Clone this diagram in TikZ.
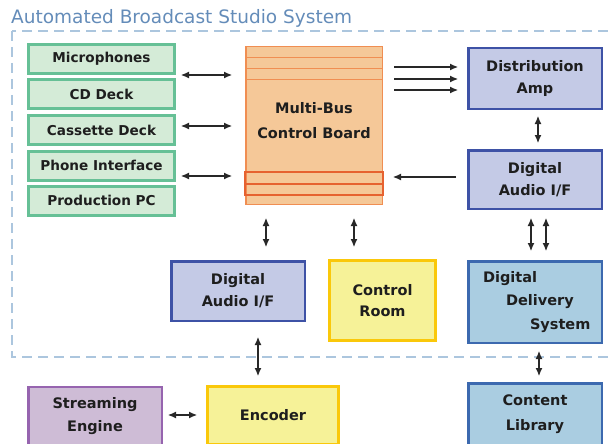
\documentclass[tikz,border=0pt]{standalone}
\usepackage{fontspec}
\setmainfont{DejaVu Sans}
\usetikzlibrary{arrows.meta}

\definecolor{titleblue}{RGB}{100,140,185}
\definecolor{framegray}{RGB}{172,198,222}
\definecolor{labeltext}{RGB}{30,30,30}
\definecolor{arrowgray}{RGB}{40,40,40}
\definecolor{srcfill}{RGB}{212,235,215}
\definecolor{srcline}{RGB}{102,192,150}
\definecolor{boardfill}{RGB}{245,200,152}
\definecolor{boardline}{RGB}{240,142,82}
\definecolor{busred}{RGB}{230,98,48}
\definecolor{iffill}{RGB}{196,202,230}
\definecolor{ifline}{RGB}{62,82,166}
\definecolor{roomfill}{RGB}{246,242,152}
\definecolor{roomline}{RGB}{250,200,10}
\definecolor{delfill}{RGB}{170,205,225}
\definecolor{delline}{RGB}{60,105,175}
\definecolor{streamfill}{RGB}{206,188,214}
\definecolor{streamline}{RGB}{150,100,175}

\tikzset{
  box/.style={draw, rectangle, inner sep=2pt, align=center, text=labeltext,
    font=\bfseries\fontsize{14.5}{22}\selectfont},
  srcbox/.style={box, fill=srcfill, draw=srcline, line width=3pt,
    minimum width=146pt, minimum height=29pt,
    font=\bfseries\fontsize{13.6}{15}\selectfont},
  ifbox/.style={box, fill=iffill, draw=ifline, line width=2.5pt},
  roombox/.style={box, fill=roomfill, draw=roomline, line width=3pt},
  delbox/.style={box, fill=delfill, draw=delline, line width=2.5pt},
  streambox/.style={box, fill=streamfill, draw=streamline, line width=2.5pt},
  link/.style={draw=arrowgray, line width=1.1pt, -{Latex[length=8pt,width=7pt]}},
  dbl/.style={draw=arrowgray, line width=1.1pt,
    {Latex[length=8pt,width=7pt]}-{Latex[length=8pt,width=7pt]}},
  frame/.style={draw=framegray, line width=1.5pt, dash pattern=on 10pt off 6pt}
}

\begin{document}
\begin{tikzpicture}[x=1pt,y=-1pt]
\useasboundingbox (0,0) rectangle (608,444);
\clip (0,0) rectangle (608,444);

% title and studio frame
\node[anchor=base west, inner sep=0pt, text=titleblue,
  font=\fontsize{18.5}{22}\selectfont] (title) at (11,24) {Automated Broadcast Studio System};
\draw[frame] (12,31) rectangle (640,357);

% sources
\node[srcbox] (mic) at (101.5,59) {Microphones};
\node[srcbox] (cd) at (101.5,94) {CD Deck};
\node[srcbox] (cassette) at (101.5,130) {Cassette Deck};
\node[srcbox] (phone) at (101.5,165.5) {Phone Interface};
\node[srcbox] (pc) at (101.5,200.5) {Production PC};

% control board
\node[draw=boardline, fill=boardfill, line width=1.5pt, minimum width=136.5pt,
  minimum height=157.5pt] (board) at (314,125.5) {};
\draw[boardline, line width=1pt] (board.west |- 0,58) -- (board.east |- 0,58);
\draw[boardline, line width=1pt] (board.west |- 0,69) -- (board.east |- 0,69);
\draw[boardline, line width=1pt] (board.west |- 0,80) -- (board.east |- 0,80);
\draw[busred, line width=2pt] (board.west |- 0,172) rectangle (board.east |- 0,195);
\draw[busred, line width=2pt] (board.west |- 0,183.5) -- (board.east |- 0,183.5);
\node[align=center, text=labeltext, font=\bfseries\fontsize{14.5}{25}\selectfont]
  (boardlabel) at (314,120.5) {Multi-Bus\\Control Board};

% right hand side
\node[ifbox, minimum width=133.5pt, minimum height=60.5pt] (dist) at (535,78.5) {Distribution\\Amp};
\node[ifbox, minimum width=133.5pt, minimum height=58.5pt] (daifr) at (535,179.5) {Digital\\Audio I/F};
\node[delbox, minimum width=133.5pt, minimum height=81.5pt, text width=120pt, align=left,
  font=\bfseries\fontsize{14.5}{23.5}\selectfont]
  (delivery) at (535,302) {\hspace*{8pt}Digital\\\hspace*{31pt}Delivery\\\hspace*{55pt}System};
\node[delbox, minimum width=133.5pt, minimum height=61.5pt, font=\bfseries\fontsize{14.5}{25}\selectfont]
  (library) at (535,414) {Content\\Library};

% lower middle
\node[ifbox, minimum width=133.5pt, minimum height=59.5pt] (daifl) at (238,291) {Digital\\Audio I/F};
\node[roombox, minimum width=106pt, minimum height=80pt, font=\bfseries\fontsize{14.5}{21}\selectfont]
  (room) at (382.5,300.5) {Control\\Room};
\node[roombox, minimum width=131pt, minimum height=58pt] (encoder) at (273,415.5) {Encoder};
\node[streambox, minimum width=133.5pt, minimum height=59.5pt, font=\bfseries\fontsize{14.5}{23}\selectfont]
  (stream) at (95,416.5) {Streaming\\Engine};

% connections
\draw[dbl, shorten <=5pt, shorten >=13pt] (mic.south east) -- (mic.south east -| board.west);
\draw[dbl, shorten <=5pt, shorten >=13pt] (cassette.east |- 0,126) -- (board.west |- 0,126);
\draw[dbl, shorten <=5pt, shorten >=13pt] (phone.east |- 0,176) -- (board.west |- 0,176);
\draw[link, shorten <=11pt, shorten >=9pt] (board.east |- 0,67) -- (dist.west |- 0,67);
\draw[link, shorten <=11pt, shorten >=9pt] (board.east |- 0,79) -- (dist.west |- 0,79);
\draw[link, shorten <=11pt, shorten >=9pt] (board.east |- 0,90) -- (dist.west |- 0,90);
\draw[dbl, shorten <=6pt, shorten >=6pt] (dist.south -| 538,0) -- (daifr.north -| 538,0);
\draw[link, shorten <=11pt, shorten >=10pt] (daifr.west |- 0,177) -- (board.east |- 0,177);
\draw[dbl, shorten <=13pt, shorten >=13pt] (board.south -| 266,0) -- (daifl.north -| 266,0);
\draw[dbl, shorten <=13pt, shorten >=12pt] (board.south -| 354,0) -- (room.north -| 354,0);
\draw[dbl, shorten <=8pt, shorten >=9pt] (daifr.south -| 531,0) -- (delivery.north -| 531,0);
\draw[dbl, shorten <=8pt, shorten >=9pt] (daifr.south -| 546,0) -- (delivery.north -| 546,0);
\draw[dbl, shorten <=7pt, shorten >=6pt] (delivery.south -| 539,0) -- (library.north -| 539,0);
\draw[dbl, shorten <=15pt, shorten >=9pt] (daifl.south -| 258,0) -- (encoder.north -| 258,0);
\draw[dbl, shorten <=5pt, shorten >=9pt] (stream.east |- 0,415) -- (encoder.west |- 0,415);
\end{tikzpicture}
\end{document}
